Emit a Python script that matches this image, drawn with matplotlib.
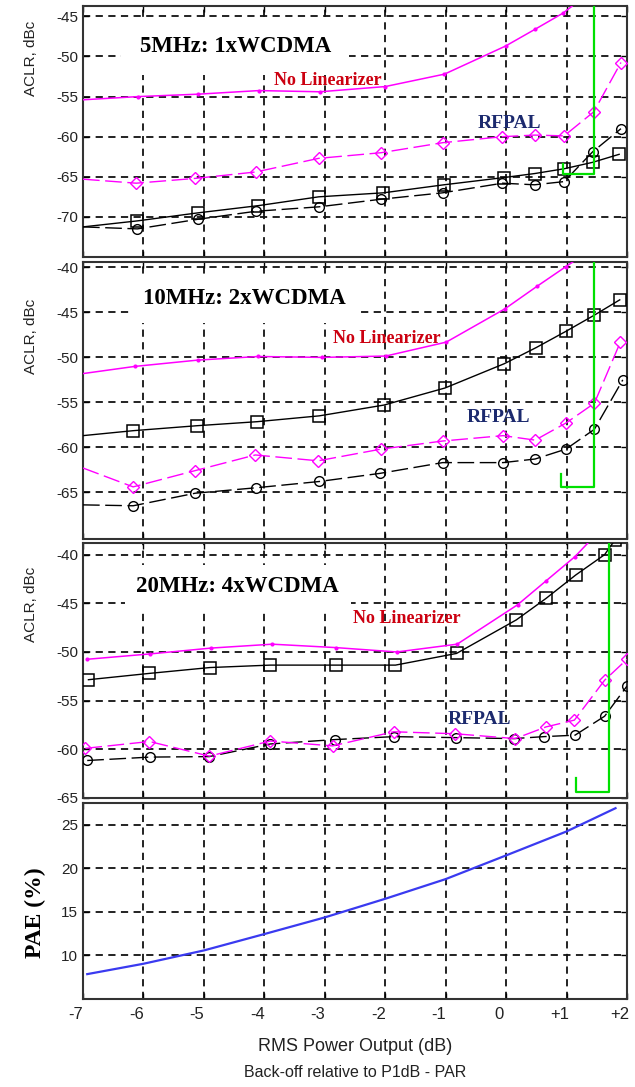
import numpy as np
import matplotlib
matplotlib.use("Agg")
import matplotlib.pyplot as plt
import matplotlib.transforms as mtransforms

plt.rcParams["axes.unicode_minus"] = False

# ---- data ----
# 5 MHz, 1xWCDMA
p1_nolin_x = [-7.0, -6.09, -5.1, -4.09, -3.08, -2.0, -1.02, -0.01, 0.48, 0.94, 1.25]
p1_nolin_y = [-55.4, -55.0, -54.7, -54.25, -54.4, -53.75, -52.2, -48.7, -46.6, -44.6, -42.8]
p1_rf_dia_x = [-7.0, -6.12, -5.14, -4.14, -3.1, -2.07, -1.05, -0.06, 0.47, 0.96, 1.45, 1.9]
p1_rf_dia_y = [-65.3, -65.8, -65.2, -64.4, -62.7, -62.0, -60.75, -60.0, -59.8, -59.9, -56.9, -50.75]
p1_sq_x = [-7.0, -6.1, -5.1, -4.1, -3.1, -2.03, -1.03, -0.04, 0.47, 0.96, 1.43, 1.87]
p1_sq_y = [-71.25, -70.5, -69.5, -68.6, -67.5, -67.0, -66.0, -65.1, -64.6, -64.0, -63.2, -62.2]
p1_ci_x = [-7.0, -6.1, -5.1, -4.14, -3.1, -2.07, -1.05, -0.06, 0.47, 0.96, 1.43, 1.9]
p1_ci_y = [-71.25, -71.5, -70.3, -69.3, -68.75, -67.8, -67.0, -65.8, -66.0, -65.6, -61.9, -59.0]
p1_green_x = [1.45, 1.45, 0.94, 0.94]
p1_green_y = [-40.0, -64.6, -64.6, -63.4]

# 10 MHz, 2xWCDMA
p2_nolin_x = [-7.0, -6.14, -5.1, -4.1, -3.05, -1.99, -0.99, -0.02, 0.51, 0.99, 1.3]
p2_nolin_y = [-51.8, -51.0, -50.3, -49.9, -50.0, -49.85, -48.3, -44.6, -42.1, -39.9, -38.5]
p2_sq_x = [-7.0, -6.17, -5.12, -4.12, -3.09, -2.02, -1.01, -0.03, 0.5, 0.99, 1.46, 1.88]
p2_sq_y = [-58.7, -58.15, -57.6, -57.15, -56.5, -55.3, -53.4, -50.7, -48.9, -47.1, -45.3, -43.6]
p2_rf_dia_x = [-7.0, -6.17, -5.15, -4.15, -3.11, -2.07, -1.05, -0.05, 0.48, 0.99, 1.46, 1.89]
p2_rf_dia_y = [-62.3, -64.4, -62.6, -60.85, -61.5, -60.2, -59.3, -58.7, -59.2, -57.3, -55.1, -48.3]
p2_ci_x = [-7.0, -6.17, -5.14, -4.14, -3.09, -2.09, -1.05, -0.05, 0.48, 0.99, 1.46, 1.93]
p2_ci_y = [-66.4, -66.5, -65.1, -64.5, -63.8, -62.9, -61.7, -61.7, -61.3, -60.2, -58.0, -52.5]
p2_green_x = [1.45, 1.45, 0.9, 0.9]
p2_green_y = [-35.0, -64.4, -64.4, -63.0]

# 20 MHz, 4xWCDMA
p3_nolin_x = [-6.93, -5.89, -4.88, -3.87, -2.82, -1.81, -0.81, 0.19, 0.66, 1.14, 1.4]
p3_nolin_y = [-50.75, -50.2, -49.6, -49.2, -49.55, -50.0, -49.2, -45.15, -42.7, -40.2, -38.5]
p3_sq_x = [-6.91, -5.9, -4.9, -3.9, -2.82, -1.83, -0.82, 0.17, 0.66, 1.15, 1.63, 1.8]
p3_sq_y = [-52.85, -52.2, -51.6, -51.35, -51.35, -51.35, -50.15, -46.7, -44.5, -42.1, -40.0, -38.5]
p3_rf_dia_x = [-6.96, -5.9, -4.91, -3.9, -2.87, -1.86, -0.85, 0.15, 0.66, 1.13, 1.63, 2.0]
p3_rf_dia_y = [-59.9, -59.2, -60.7, -59.15, -59.65, -58.2, -58.4, -58.9, -57.7, -57.0, -52.9, -50.75]
p3_ci_x = [-6.93, -5.89, -4.91, -3.9, -2.83, -1.86, -0.83, 0.13, 0.62, 1.14, 1.63, 2.0]
p3_ci_y = [-61.15, -60.8, -60.75, -59.45, -59.0, -58.7, -58.8, -58.9, -58.7, -58.55, -56.6, -53.5]
p3_green_x = [1.7, 1.7, 1.15, 1.15]
p3_green_y = [-35.0, -64.4, -64.4, -62.9]

# PAE
pae_x = [-6.93, -6.0, -5.0, -4.0, -3.0, -2.0, -1.0, 0.0, 1.0, 1.81]
pae_y = [7.85, 9.04, 10.57, 12.45, 14.36, 16.5, 18.76, 21.48, 24.23, 26.9]

x_ticks = [-7, -6, -5, -4, -3, -2, -1, 0, 1, 2]
x_ticklabels = ["-7", "-6", "-5", "-4", "-3", "-2", "-1", "0", "+1", "+2"]

MAG = "#ff00ff"
NAVY = "#1c2a6e"
RED = "#cc0010"
GREEN = "#00e000"
SERIF = "Liberation Serif"
SANS = "Liberation Sans"

fig = plt.figure(figsize=(6.35, 10.87), dpi=100)
L, W = 0.1307, 0.8567
ax1 = fig.add_axes([L, 0.7636, W, 0.2309])
ax2 = fig.add_axes([L, 0.5041, W, 0.2548])
ax3 = fig.add_axes([L, 0.2659, W, 0.2346])
ax4 = fig.add_axes([L, 0.0810, W, 0.1803])


def style(ax, ylim, yticks):
    ax.set_xlim(-7, 2)
    ax.set_ylim(*ylim)
    ax.set_xticks(x_ticks)
    ax.set_yticks(yticks)
    ax.grid(True, color="#111111", linestyle=(0, (4, 3)), linewidth=1.3)
    ax.set_axisbelow(True)
    ax.tick_params(direction="in", top=True, right=True, length=4,
                   labelsize=11, labelcolor="#222222", width=1)
    for lab in ax.get_yticklabels() + ax.get_xticklabels():
        lab.set_family(SANS)
    for s in ax.spines.values():
        s.set_linewidth(1.5)
        s.set_color("#333333")


def aclr_panel(ax, nx, ny, dx, dy, sx, sy, cx, cy, gx, gy, skip_first):
    me = slice(1, None) if skip_first else None
    ax.plot(sx, sy, color="black", lw=1, marker="s", ms=8.5, mfc="none",
            mew=1.1, markevery=me, zorder=3)
    ax.plot(cx, cy, color="black", lw=1, linestyle=(0, (12, 4)), marker="o",
            ms=7, mfc="none", mew=1.0, markevery=me, zorder=3)
    ax.plot(dx, dy, color=MAG, lw=1, linestyle=(0, (12, 4)), marker="D",
            ms=6.5, mfc="none", mew=1.0, markevery=me, zorder=3)
    ax.plot(nx, ny, color=MAG, lw=1.1, marker="o", ms=3, mew=0,
            markevery=me, zorder=4)
    ax.plot(gx, gy, color=GREEN, lw=1.6, zorder=5)


def labels(ax, title_xy, title, pad, nolin_xy, rfpal_xy):
    ax.text(*title_xy, title, family=SERIF, weight="bold", fontsize=16.5,
            ha="center", va="center", zorder=6,
            bbox=dict(boxstyle="square,pad=%s" % pad, fc="white", ec="none"))
    ax.text(*nolin_xy, "No Linearizer", family=SERIF, weight="bold", fontsize=13,
            color=RED, ha="center", va="center", zorder=6)
    ax.text(*rfpal_xy, "RFPAL", family=SERIF, weight="bold", fontsize=14,
            color=NAVY, ha="center", va="center", zorder=6)


style(ax1, (-75, -43.7), [-70, -65, -60, -55, -50, -45])
aclr_panel(ax1, p1_nolin_x, p1_nolin_y, p1_rf_dia_x, p1_rf_dia_y,
           p1_sq_x, p1_sq_y, p1_ci_x, p1_ci_y, p1_green_x, p1_green_y, True)
labels(ax1, (-4.48, -48.7), "5MHz: 1xWCDMA", 0.8, (-2.95, -53.0), (0.05, -58.3))

style(ax2, (-70.2, -39.4), [-65, -60, -55, -50, -45, -40])
aclr_panel(ax2, p2_nolin_x, p2_nolin_y, p2_rf_dia_x, p2_rf_dia_y,
           p2_sq_x, p2_sq_y, p2_ci_x, p2_ci_y, p2_green_x, p2_green_y, True)
labels(ax2, (-4.33, -43.5), "10MHz: 2xWCDMA", 0.6, (-1.98, -47.9), (-0.12, -56.7))

style(ax3, (-65, -38.8), [-65, -60, -55, -50, -45, -40])
aclr_panel(ax3, p3_nolin_x, p3_nolin_y, p3_rf_dia_x, p3_rf_dia_y,
           p3_sq_x, p3_sq_y, p3_ci_x, p3_ci_y, p3_green_x, p3_green_y, False)
labels(ax3, (-4.44, -43.3), "20MHz: 4xWCDMA", 0.5, (-1.65, -46.6), (-0.45, -56.95))

for ax, ly in ((ax1, 0.79), (ax2, 0.73), (ax3, 0.76)):
    ax.tick_params(labelbottom=False)
    ax.set_ylabel("ACLR, dBc", family=SANS, fontsize=11, color="#222222")
    ax.yaxis.set_label_coords(-0.083, ly)

style(ax4, (5, 27.5), [10, 15, 20, 25])
ax4.plot(pae_x, pae_y, color="#3a3af0", lw=1.6, zorder=3)
ax4.set_xticklabels(x_ticklabels)
ax4.tick_params(axis="x", pad=6, labelsize=12)
shift = mtransforms.ScaledTranslation(-5 / 72, 0, fig.dpi_scale_trans)
for lab in ax4.get_xticklabels():
    lab.set_transform(lab.get_transform() + shift)
ax4.set_ylabel("PAE (%)", family=SERIF, weight="bold", fontsize=17)
ax4.yaxis.set_label_coords(-0.068, 0.44)
ax4.set_xlabel("RMS Power Output (dB)", family=SANS, fontsize=13, color="#222222",
               labelpad=11)
fig.text(L + W / 2, 0.0135, "Back-off relative to P1dB - PAR", family=SANS,
         fontsize=11.5, ha="center", va="center", color="#222222")

fig.savefig("out.png", dpi=100)
